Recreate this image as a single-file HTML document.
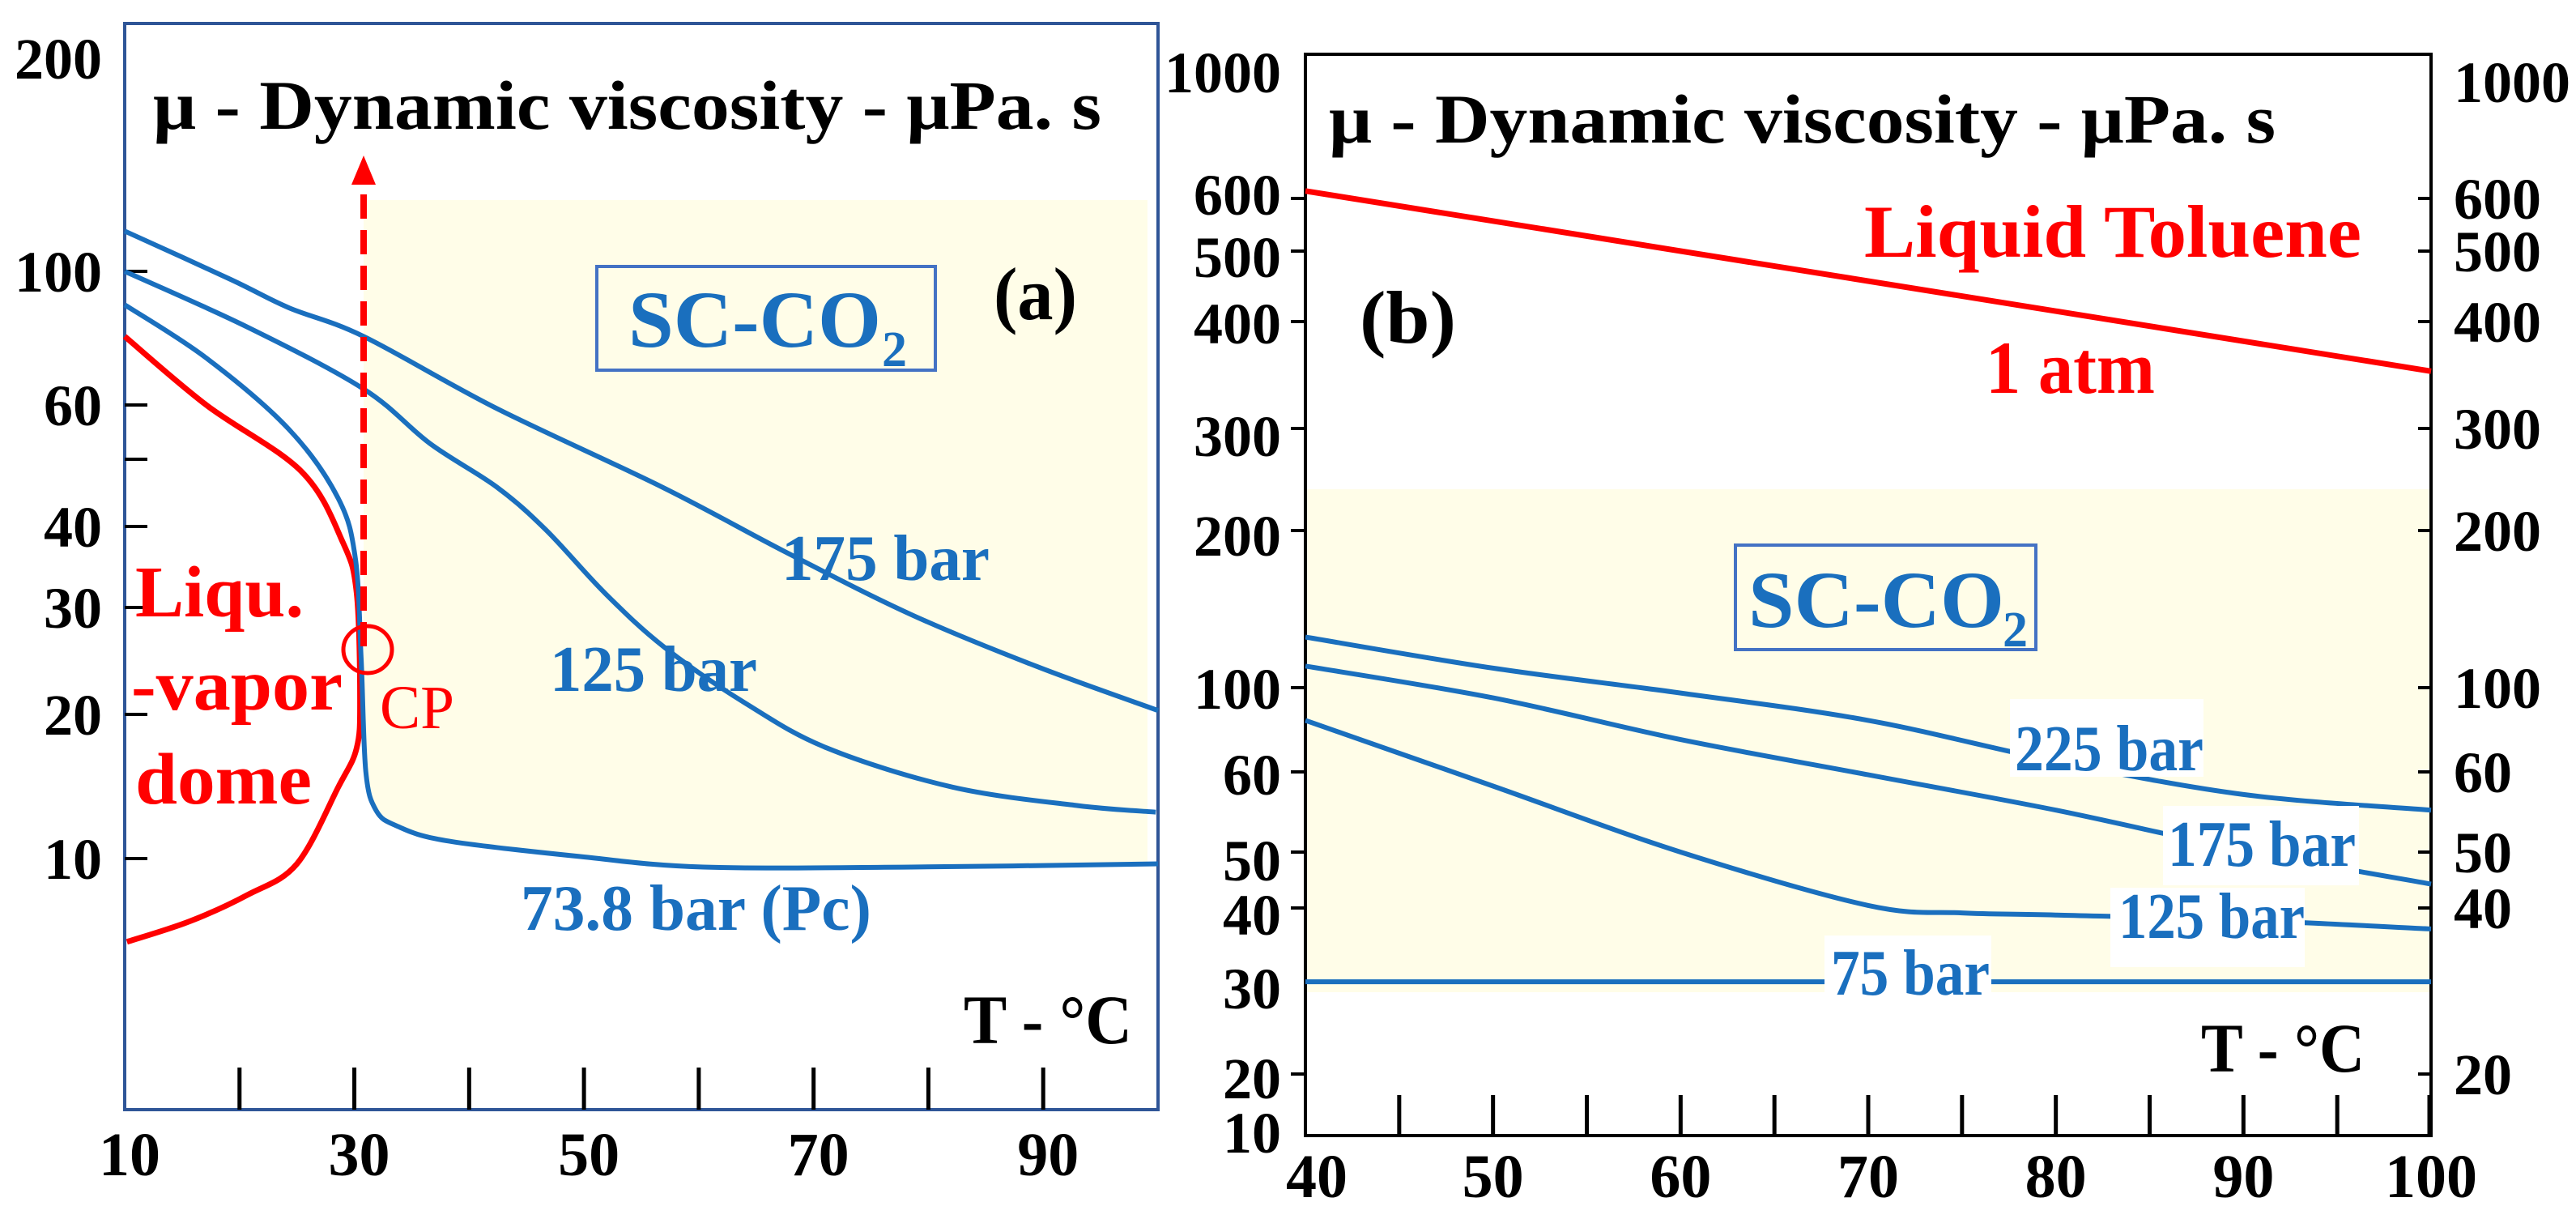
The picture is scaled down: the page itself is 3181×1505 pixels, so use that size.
<!DOCTYPE html>
<html><head><meta charset="utf-8"><style>
html,body{margin:0;padding:0;background:#fff;}
svg{display:block;}
text{font-family:"Liberation Serif",serif;}
</style></head><body>
<svg id="chart" width="3181" height="1505" viewBox="0 0 3181 1505" xmlns="http://www.w3.org/2000/svg">
<g id="pa"></g>
<g id="pb"></g>
</svg>
<script>
// ---------- Panel (a) data ----------
const aYTickVals = [10, 20, 30, 40, 50, 60, 100, 200];
const aYTickLabels = ["10", "20", "30", "40", "", "60", "100", "200"];
const aXTickVals = [20, 30, 40, 50, 60, 70, 80, 90];
const aXLabelVals = [10, 30, 50, 70, 90];
const a175T = [10, 19.3, 24.3, 30.8, 42.4, 56.8, 67.6, 78.5, 89.4, 100];
const a175Mu = [114, 96.8, 87, 78, 59.3, 45.6, 36.5, 29.2, 24.0, 20.3];
const a125T = [10, 20.7, 30.8, 36.6, 42.4, 46.7, 51.8, 57, 64, 71.2, 82.1, 93, 99.8];
const a125Mu = [100, 80.8, 63.8, 52.7, 45.6, 39.5, 31.6, 25.8, 20.9, 17.0, 14.1, 12.9, 12.5];
const aPcT = [10, 17.1, 24.3, 28.6, 30.1, 30.6, 31, 31.9, 33.7, 38, 49.6, 60.4, 78.5, 100];
const aPcMu = [88, 71.8, 55.3, 43.9, 35.6, 24.5, 15.2, 12.6, 11.7, 10.9, 10.1, 9.6, 9.6, 9.75];
const aDomeT = [10, 17.1, 25.4, 29, 30.2, 30.5, 30.2, 28.6, 25, 20.7, 15.7, 10.2];
const aDomeMu = [78, 60, 48, 37.8, 31.6, 21.2, 17, 14.1, 9.75, 8.4, 7.4, 6.7];

// ---------- Panel (b) data ----------
const bYTickVals = [20, 30, 40, 50, 60, 100, 200, 300, 400, 500, 600, 1000];
const bLeftLabels = ["10", "20", "30", "40", "50", "60", "100", "200", "300", "400", "500", "600", "1000"];
const bRightLabels = ["20", "40", "50", "60", "100", "200", "300", "400", "500", "600", "1000"];
const bXLabelVals = [40, 50, 60, 70, 80, 90, 100];
const bTolT = [40, 100];
const bTolMu = [620, 350];
const b225T = [40, 50, 60, 70, 80, 90, 100];
const b225Mu = [125, 109, 96.8, 82, 64, 57, 55];
const b175T = [40, 50, 60, 70, 80, 90, 100];
const b175Mu = [110, 94, 73, 59.6, 55, 50.2, 44];
const b125T = [40, 50, 60, 70, 75, 80, 90, 100];
const b125Mu = [82, 58.1, 50, 40.4, 39.3, 39.0, 38.3, 37.1];
const b75T = [40, 100];
const b75Mu = [30.7, 30.7];

const NS = "http://www.w3.org/2000/svg";
function mk(parent, tag, attrs, txt) {
  const e = document.createElementNS(NS, tag);
  for (const k in attrs) e.setAttribute(k, attrs[k]);
  if (txt !== undefined) e.textContent = txt;
  parent.appendChild(e);
  return e;
}
function logScale(vals, pix) {
  return function (v) {
    const L = Math.log(v);
    let i = 0;
    if (v <= vals[0]) i = 0;
    else if (v >= vals[vals.length - 1]) i = vals.length - 2;
    else { while (!(v >= vals[i] && v <= vals[i + 1])) i++; }
    const f = (L - Math.log(vals[i])) / (Math.log(vals[i + 1]) - Math.log(vals[i]));
    return pix[i] + f * (pix[i + 1] - pix[i]);
  };
}
const aY = logScale(aYTickVals, [1060, 882, 750, 650, 567, 500, 335, 72]);
const aX = t => 154 + (t - 10) * (1430 - 154) / 90;
const bY = logScale(bYTickVals, [1326, 1220, 1121, 1052, 953, 849, 655, 529, 397, 310, 245, 101]);
const bX = t => 1612 + (t - 40) * (3002 - 1612) / 60;
const BLUE = "#1a6fbe", RED = "#ff0000";
function pts(xs, ys, X, Y) { return xs.map((t, i) => X(t).toFixed(1) + "," + Y(ys[i]).toFixed(1)).join(" "); }
function smoothPath(xs, ys, X, Y) {
  const P = xs.map((t, i) => [X(t), Y(ys[i])]);
  let d = "M" + P[0][0].toFixed(1) + "," + P[0][1].toFixed(1);
  for (let i = 0; i < P.length - 1; i++) {
    const p0 = P[Math.max(i - 1, 0)], p1 = P[i], p2 = P[i + 1], p3 = P[Math.min(i + 2, P.length - 1)];
    const c1 = [p1[0] + (p2[0] - p0[0]) / 6, p1[1] + (p2[1] - p0[1]) / 6];
    const c2 = [p2[0] - (p3[0] - p1[0]) / 6, p2[1] - (p3[1] - p1[1]) / 6];
    d += " C" + c1[0].toFixed(1) + "," + c1[1].toFixed(1) + " " + c2[0].toFixed(1) + "," + c2[1].toFixed(1) + " " + p2[0].toFixed(1) + "," + p2[1].toFixed(1);
  }
  return d;
}

// ================= PANEL A =================
const pa = document.getElementById("pa");
{
  let p = "449,247 1417,247 ";
  const sh = [];
  for (let i = aPcT.length - 1; i >= 0; i--) if (aPcT[i] >= 31) sh.push(Math.min(aX(aPcT[i]), 1417).toFixed(1) + "," + aY(aPcMu[i]).toFixed(1));
  const s = mk(pa, "polygon", { points: p + sh.join(" ") + " 449," + aY(15.2).toFixed(1), fill: "#fffde8" });
  
  
  const fr = mk(pa, "rect", { x: 154, y: 29, width: 1276, height: 1341, fill: "none", stroke: "#2f5597", "stroke-width": 4 });
  
  
  aYTickVals.forEach((v, i) => {
    if (v < 200) {
      const t = mk(pa, "line", { x1: 154, x2: 182, y1: aY(v), y2: aY(v), stroke: "#000", "stroke-width": 4 });
      
      
    }
    if (aYTickLabels[i]) {
      const l = mk(pa, "text", { x: 126, y: aY(v) + 25, "text-anchor": "end", "font-size": 72, "font-weight": "bold" }, aYTickLabels[i]);
      
      
    }
  });
  aXTickVals.forEach(v => {
    const t = mk(pa, "line", { x1: aX(v), x2: aX(v), y1: 1318, y2: 1370, stroke: "#000", "stroke-width": 5 });
    
    
  });
  aXLabelVals.forEach(v => {
    const l = mk(pa, "text", { x: aX(v) + 6, y: 1451, "text-anchor": "middle", "font-size": 76, "font-weight": "bold" }, String(v));
    
    
  });
  const dome = mk(pa, "path", { d: smoothPath(aDomeT, aDomeMu, aX, aY), fill: "none", stroke: RED, "stroke-width": 7 });
  
  
  [[a175T, a175Mu, "line-175-bar-a"], [a125T, a125Mu, "line-125-bar-a"], [aPcT, aPcMu, "line-73-8-bar-a"]].forEach(s => {
    const l = mk(pa, "path", { d: smoothPath(s[0], s[1], aX, aY), fill: "none", stroke: BLUE, "stroke-width": 6, "stroke-linejoin": "round" });
    
    
  });
  const ar = mk(pa, "line", { x1: 449, x2: 449, y1: 798, y2: 226, stroke: RED, "stroke-width": 8, "stroke-dasharray": "30 14" });
  
  
  const ah = mk(pa, "polygon", { points: "449,192 434,228 464,228", fill: RED });
  
  
  const cp = mk(pa, "ellipse", { cx: 454, cy: 802, rx: 30, ry: 29, fill: "none", stroke: RED, "stroke-width": 5 });
  
  
  const texts = [
    ["μ - Dynamic viscosity - μPa. s", 189, 159, 86, "#000", "bold", 1171, "y-axis-title-a"],
    ["(a)", 1227, 394, 92, "#000", "bold", 103, "panel-label-a"],
    ["175 bar", 965, 716, 80, BLUE, "bold", 257, "label-175-bar-a"],
    ["125 bar", 679, 853, 80, BLUE, "bold", 256, "label-125-bar-a"],
    ["73.8 bar (Pc)", 643, 1148, 80, BLUE, "bold", 433, "label-73-8-bar-a"],
    ["T - °C", 1190, 1288, 86, "#000", "bold", 208, "x-axis-title-a"],
    ["Liqu.", 167, 761, 90, RED, "bold", 208, "dome-label-line1"],
    ["-vapor", 162, 876, 90, RED, "bold", 261, "dome-label-line2"],
    ["dome", 167, 992, 90, RED, "bold", 218, "dome-label-line3"],
    ["CP", 469, 899, 76, RED, "normal", 92, "cp-label"]
  ];
  texts.forEach(t => {
    const e = mk(pa, "text", { x: t[1], y: t[2], "font-size": t[3], fill: t[4], "font-weight": t[5], textLength: t[6], lengthAdjust: "spacingAndGlyphs" }, t[0]);
    
    
  });
  const bx = mk(pa, "rect", { x: 737, y: 329, width: 418, height: 128, fill: "none", stroke: "#4472c4", "stroke-width": 4 });
  
  
  const sc = mk(pa, "text", { x: 776, y: 428, "font-size": 100, fill: BLUE, "font-weight": "bold", textLength: 312, lengthAdjust: "spacingAndGlyphs" }, "SC-CO");
  
  
  const s2 = mk(pa, "text", { x: 1089, y: 452, "font-size": 62, fill: BLUE, "font-weight": "bold" }, "2");
  
  
}

// ================= PANEL B =================
const pb = document.getElementById("pb");
{
  const s = mk(pb, "rect", { x: 1612, y: 604, width: 1390, height: 621, fill: "#fffde8" });
  
  
  const fr = mk(pb, "rect", { x: 1612, y: 67, width: 1390, height: 1335, fill: "none", stroke: "#000", "stroke-width": 4 });
  
  
  bYTickVals.forEach(v => {
    if (v === 30 || v === 1000) return;
    const t1 = mk(pb, "line", { x1: 1594, x2: 1612, y1: bY(v), y2: bY(v), stroke: "#000", "stroke-width": 4 });
    
    
    const t2 = mk(pb, "line", { x1: 2986, x2: 3002, y1: bY(v), y2: bY(v), stroke: "#000", "stroke-width": 4 });
    
    
  });
  const leftYs = [1398, 1331, 1220, 1129, 1062, 956, 850, 661, 538, 399, 317, 240, 89];
  bLeftLabels.forEach((lab, i) => {
    const l = mk(pb, "text", { x: 1582, y: leftYs[i] + 25, "text-anchor": "end", "font-size": 72, "font-weight": "bold" }, lab);
    
    
  });
  bRightLabels.forEach(lab => {
    const v = Number(lab);
    const l = mk(pb, "text", { x: 3030, y: bY(v) + 25, "font-size": 72, "font-weight": "bold" }, lab);
    
    
  });
  for (let t = 45; t <= 100; t += 5) {
    const k = mk(pb, "line", { x1: bX(t) - (t === 100 ? 2 : 0), x2: bX(t) - (t === 100 ? 2 : 0), y1: 1352, y2: 1402, stroke: "#000", "stroke-width": 5 });
    
    
  }
  bXLabelVals.forEach(v => {
    const l = mk(pb, "text", { x: bX(v) + (v === 40 ? 14 : 0), y: 1478, "text-anchor": "middle", "font-size": 76, "font-weight": "bold" }, String(v));
    
    
  });
  const tol = mk(pb, "polyline", { points: pts(bTolT, bTolMu, bX, bY), fill: "none", stroke: RED, "stroke-width": 7 });
  
  
  [[b225T, b225Mu, "line-225-bar-b"], [b175T, b175Mu, "line-175-bar-b"], [b125T, b125Mu, "line-125-bar-b"], [b75T, b75Mu, "line-75-bar-b"]].forEach(s => {
    const l = mk(pb, "path", { d: smoothPath(s[0], s[1], bX, bY), fill: "none", stroke: BLUE, "stroke-width": 6, "stroke-linejoin": "round" });
    
    
  });
  const boxes = [[2482, 863, 239, 96], [2671, 995, 242, 98], [2606, 1096, 240, 98], [2253, 1155, 206, 70]];
  boxes.forEach(b => {
    const r = mk(pb, "rect", { x: b[0], y: b[1], width: b[2], height: b[3], fill: "#fff" });
    
    
  });
  const texts = [
    ["μ - Dynamic viscosity - μPa. s", 1641, 176, 86, "#000", "bold", 1169, "y-axis-title-b"],
    ["(b)", 1679, 423, 92, "#000", "bold", 119, "panel-label-b"],
    ["Liquid Toluene", 2302, 317, 92, RED, "bold", 614, "toluene-label"],
    ["1 atm", 2452, 485, 92, RED, "bold", 209, "pressure-label-1-atm"],
    ["225 bar", 2488, 951, 80, BLUE, "bold", 233, "label-225-bar-b"],
    ["175 bar", 2677, 1069, 80, BLUE, "bold", 232, "label-175-bar-b"],
    ["125 bar", 2616, 1158, 80, BLUE, "bold", 230, "label-125-bar-b"],
    ["75 bar", 2261, 1228, 80, BLUE, "bold", 196, "label-75-bar-b"],
    ["T - °C", 2718, 1323, 86, "#000", "bold", 202, "x-axis-title-b"]
  ];
  texts.forEach(t => {
    const e = mk(pb, "text", { x: t[1], y: t[2], "font-size": t[3], fill: t[4], "font-weight": t[5], textLength: t[6], lengthAdjust: "spacingAndGlyphs" }, t[0]);
    
    
  });
  const bx = mk(pb, "rect", { x: 2143, y: 673, width: 371, height: 129, fill: "none", stroke: "#4472c4", "stroke-width": 4 });
  
  
  const sc = mk(pb, "text", { x: 2159, y: 774, "font-size": 100, fill: BLUE, "font-weight": "bold", textLength: 316, lengthAdjust: "spacingAndGlyphs" }, "SC-CO");
  
  
  const s2 = mk(pb, "text", { x: 2473, y: 798, "font-size": 62, fill: BLUE, "font-weight": "bold" }, "2");
  
  
}
</script>
</body></html>
